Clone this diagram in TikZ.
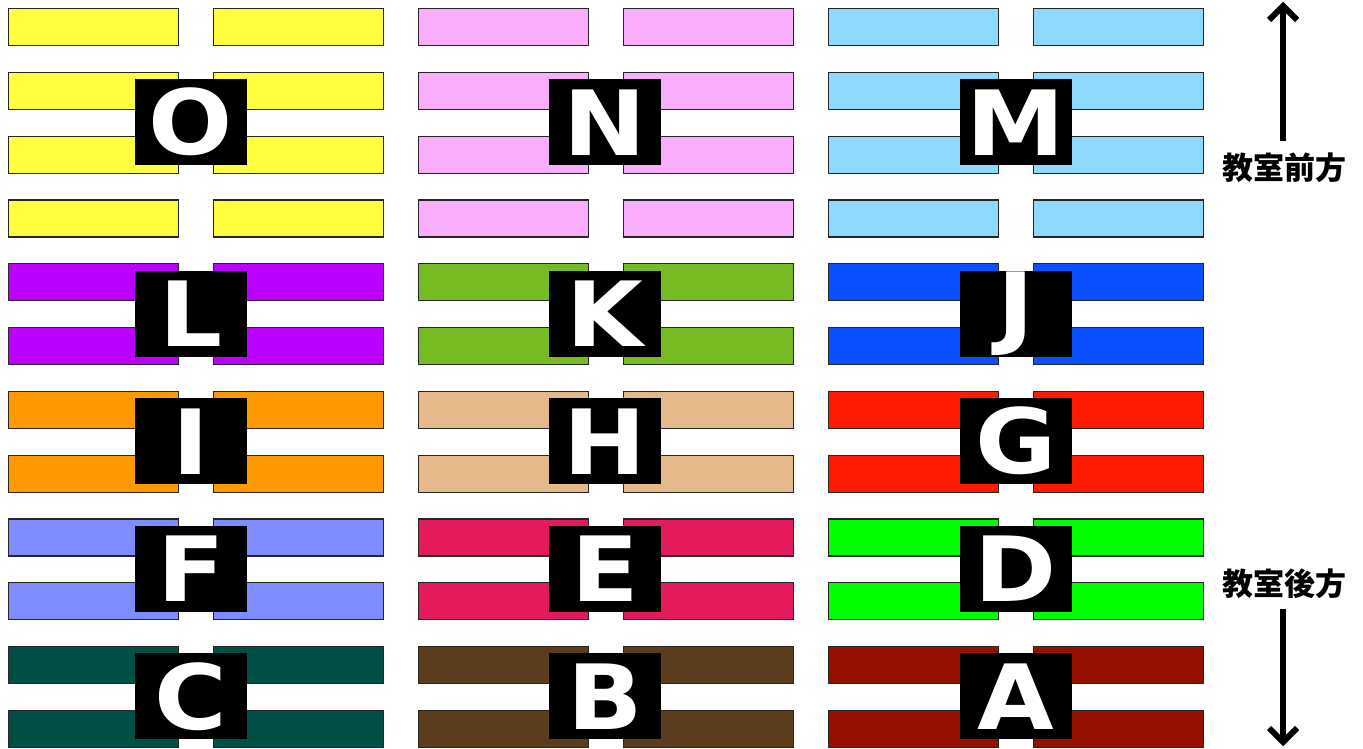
\documentclass[tikz,border=0pt]{standalone}
\usepackage{fontspec}
\setmainfont{DejaVu Sans}
\newfontfamily\tagfont{DejaVu Sans Bold}[FakeStretch=1.1]
\newfontfamily\cjk{Noto Sans CJK JP}
\usetikzlibrary{arrows.meta}
\definecolor{col00}{HTML}{FFFF40}
\definecolor{col10}{HTML}{F9AEFB}
\definecolor{col20}{HTML}{8DD9FF}
\definecolor{col01}{HTML}{BB00FF}
\definecolor{col11}{HTML}{77BB22}
\definecolor{col21}{HTML}{0A50FF}
\definecolor{col02}{HTML}{FF9900}
\definecolor{col12}{HTML}{E6B98B}
\definecolor{col22}{HTML}{FF1A00}
\definecolor{col03}{HTML}{7F8CFF}
\definecolor{col13}{HTML}{E31B5B}
\definecolor{col23}{HTML}{00FF00}
\definecolor{col04}{HTML}{005045}
\definecolor{col14}{HTML}{5B3D1E}
\definecolor{col24}{HTML}{961000}
\begin{document}
\begin{tikzpicture}[x=1pt,y=-1pt,
  desk/.style={draw=black!85, line width=1.2pt, minimum width=170pt, minimum height=37pt, inner sep=0pt, anchor=north west},
  tag/.style={fill=black, text=white, minimum width=112pt, minimum height=86pt, inner sep=0pt, font=\tagfont\fontsize{90}{90}\selectfont},
  side/.style={font=\cjk\bfseries\fontsize{31}{31}\selectfont, inner sep=0pt},
  shaft/.style={line width=6pt},
  chevron/.style={line width=6pt, line join=miter, line cap=butt}]
\useasboundingbox (0,0) rectangle (1363,748);
\foreach \r in {0,...,11}{
  \pgfmathtruncatemacro\g{\r<4 ? 0 : int(\r/2)-1}
  \foreach \c in {0,1,2}{
    \foreach \s in {0,1}{
      \node[desk, fill=col\c\g] (d-\r-\c-\s) at ({8+410*\c+205*\s},{8+63.8*\r}) {};
    }
  }
}
\foreach \g/\y in {0/122.2,1/313.6,2/441.2,3/568.8,4/696.4}{
  \foreach \c/\x in {0/191,1/605,2/1016}{
    \coordinate (t-\g-\c) at (\x,\y);
  }
}
\node[tag] (O) at (t-0-0) {O};
\node[tag] (N) at (t-0-1) {N};
\node[tag] (M) at (t-0-2) {M};
\node[tag] (L) at (t-1-0) {L};
\node[tag] (K) at (t-1-1) {K};
\node[tag] (J) at (t-1-2) {J};
\node[tag] (I) at (t-2-0) {I};
\node[tag] (H) at (t-2-1) {H};
\node[tag] (G) at (t-2-2) {G};
\node[tag] (F) at (t-3-0) {F};
\node[tag] (E) at (t-3-1) {E};
\node[tag] (D) at (t-3-2) {D};
\node[tag] (C) at (t-4-0) {C};
\node[tag] (B) at (t-4-1) {B};
\node[tag] (A) at (t-4-2) {A};
\node[side] (front) at (1284,168) {教室前方};
\node[side] (back) at (1284,584) {教室後方};
\coordinate (top) at (1283,6);
\coordinate (bottom) at (1283,742);
\draw[shaft] ([yshift=12pt]front.north -| top) -- (top);
\draw[shaft] ([yshift=-10pt]back.south -| bottom) -- (bottom);
\draw[chevron] ([shift={(-14,14)}]top) -- (top) -- ([shift={(14,14)}]top);
\draw[chevron] ([shift={(-14,-14)}]bottom) -- (bottom) -- ([shift={(14,-14)}]bottom);
\end{tikzpicture}
\end{document}
